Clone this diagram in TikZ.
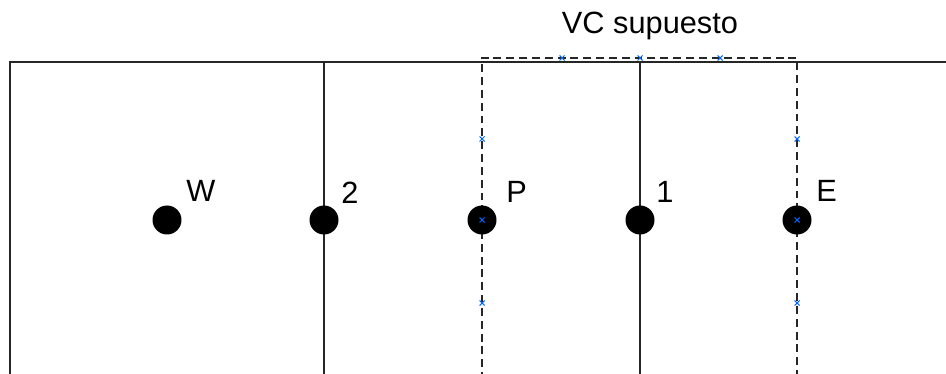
\documentclass[tikz,border=0pt]{standalone}
\usepackage{fontspec}
\setmainfont{Liberation Sans}
\begin{document}
\begin{tikzpicture}[x=0.02cm,y=-0.02cm,
  wall/.style={line width=1.4pt,draw=black!85},
  vcbox/.style={line width=1.1pt,draw=black!85,dash pattern=on 4.5pt off 2.8pt},
  dot/.style={circle,fill=black,inner sep=0pt,minimum size=0.58cm},
  lbl/.style={anchor=base west,inner sep=0pt,font=\fontsize{17.5}{20}\selectfont},
  cpt/.style={draw=blue!60!cyan,line width=0.6pt}
]
\useasboundingbox (0,0) rectangle (946,374);
% frame lines
\coordinate (tl) at (10,62);
\coordinate (bl) at (10,380);
\coordinate (tr) at (950,62);
\coordinate (t2) at (324,62);
\coordinate (b2) at (324,380);
\coordinate (t1) at (640,62);
\coordinate (b1) at (640,380);
\draw[wall] (bl) -- (tl) -- (tr);
\draw[wall] (t2) -- (b2);
\draw[wall] (t1) -- (b1);
% dashed control volume
\coordinate (vA) at (482,380);
\coordinate (vB) at (482,58);
\coordinate (vC) at (797,58);
\coordinate (vD) at (797,380);
\draw[vcbox] (vA) -- (vB) -- (vC) -- (vD);
% nodes
\node[dot] (W) at (167,220) {};
\node[dot] (n2) at (324,220) {};
\node[dot] (P) at (482,220) {};
\node[dot] (n1) at (640,220) {};
\node[dot] (E) at (797,220) {};
% labels
\node[lbl] (lW) at (186,202) {W};
\node[lbl] (l2) at (341,204) {2};
\node[lbl] (lP) at (506,203) {P};
\node[lbl] (l1) at (656,203) {1};
\node[lbl] (lE) at (816,202) {E};
\node[anchor=base,inner sep=0pt,font=\fontsize{17.5}{20}\selectfont] (vc) at (650,34) {VC supuesto};
% connection point marks
\foreach \px/\py in {482/139,482/303,562/58,640/58,720/58,797/139,797/303}{
  \draw[cpt] (\px-2.5,\py-2.5) -- (\px+2.5,\py+2.5) (\px-2.5,\py+2.5) -- (\px+2.5,\py-2.5);
}
\foreach \n in {P,E}{
  \draw[cpt] ([shift={(-2.5,-2.5)}]\n.center) -- ([shift={(2.5,2.5)}]\n.center)
             ([shift={(-2.5,2.5)}]\n.center) -- ([shift={(2.5,-2.5)}]\n.center);
}
\end{tikzpicture}
\end{document}
